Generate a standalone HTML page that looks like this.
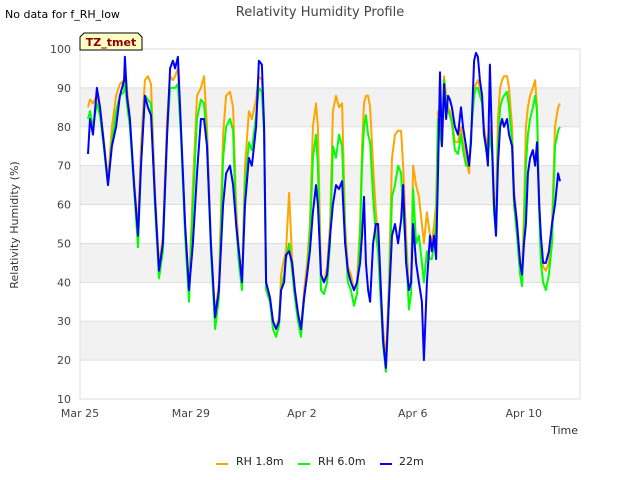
<!DOCTYPE html>
<html><head><meta charset="utf-8"><style>
body{margin:0;background:#fff;}
svg{display:block;font-family:"DejaVu Sans","Liberation Sans",sans-serif;}
</style></head><body>
<svg id="chart" width="640" height="480">
<rect width="640" height="480" fill="#fff"/>
<g id="bands"></g>
<g id="grid"></g>
<rect x="80" y="49" width="500" height="350" fill="none" stroke="#ddd"/>
<g id="yticks"></g>
<g id="xticks"></g>
<g id="series"></g>
<text x="320" y="16" text-anchor="middle" font-size="13" fill="#444">Relativity Humidity Profile</text>
<text x="5" y="18" font-size="11" fill="#000">No data for f_RH_low</text>
<g>
<path d="M80,50 L80,37 L84,33 L138,33 L142,37 L142,50 Z" fill="#ffffc4" stroke="#000" stroke-width="1"/>
<text x="111" y="46" text-anchor="middle" font-size="11" font-weight="bold" fill="#8b0000">TZ_tmet</text>
</g>
<text transform="translate(18,225) rotate(-90)" text-anchor="middle" font-size="11" fill="#333">Relativity Humidity (%)</text>
<text x="578" y="434" text-anchor="end" font-size="11" fill="#333">Time</text>
<g>
<g><line x1="216" y1="464" x2="228" y2="464" stroke="#ffa500" stroke-width="2"/><text x="236" y="465" font-size="11" fill="#222">RH 1.8m</text></g>
<g><line x1="298" y1="464" x2="310" y2="464" stroke="#00ff00" stroke-width="2"/><text x="318" y="465" font-size="11" fill="#222">RH 6.0m</text></g>
<g><line x1="380" y1="464" x2="392" y2="464" stroke="#0000ff" stroke-width="2"/><text x="399" y="465" font-size="11" fill="#222">22m</text></g>
</g>
</svg>
<script>
const timeDays=[0.29,0.36,0.47,0.61,0.72,0.87,1.01,1.15,1.30,1.44,1.59,1.62,1.69,1.80,1.95,2.09,2.20,2.34,2.45,2.56,2.70,2.85,2.99,3.14,3.25,3.35,3.43,3.53,3.64,3.79,3.93,4.07,4.22,4.36,4.47,4.58,4.72,4.87,5.01,5.16,5.27,5.41,5.52,5.63,5.73,5.84,5.95,6.09,6.20,6.35,6.45,6.56,6.64,6.71,6.85,6.96,7.07,7.18,7.25,7.36,7.43,7.54,7.65,7.75,7.86,7.97,8.08,8.19,8.29,8.40,8.51,8.58,8.69,8.80,8.91,9.02,9.12,9.23,9.34,9.45,9.56,9.66,9.77,9.88,9.99,10.10,10.17,10.24,10.31,10.39,10.46,10.57,10.67,10.75,10.82,10.93,11.03,11.14,11.25,11.36,11.47,11.58,11.65,11.76,11.86,11.94,12.01,12.12,12.22,12.33,12.40,12.51,12.62,12.69,12.77,12.84,12.91,12.98,13.05,13.13,13.20,13.27,13.34,13.41,13.52,13.63,13.74,13.81,13.92,14.03,14.10,14.21,14.28,14.35,14.42,14.50,14.57,14.64,14.71,14.78,14.86,14.93,15.00,15.07,15.15,15.22,15.29,15.40,15.47,15.58,15.65,15.76,15.87,15.94,16.01,16.08,16.15,16.23,16.33,16.41,16.48,16.56,16.62,16.70,16.80,16.91,17.02,17.13,17.24,17.31];
const rh22=[73,82,78,90,85,75,65,75,80,88,92,98,88,82,65,52,70,88,85,83,62,43,50,78,95,97,95,98,80,55,38,50,68,82,82,75,50,31,38,60,68,70,65,55,48,40,60,72,70,80,97,96,80,40,36,30,28,30,38,40,47,48,45,38,32,28,36,42,48,58,65,60,42,40,42,52,60,65,64,66,50,43,40,38,40,45,52,62,45,38,35,50,55,55,43,25,18,35,52,55,50,56,65,45,38,40,55,45,40,35,20,40,52,48,52,46,68,94,75,91,82,88,87,85,80,78,85,80,75,70,76,97,99,98,92,88,78,75,70,96,75,60,52,70,80,82,80,82,78,75,62,55,45,42,50,55,68,72,74,70,76,60,52,45,45,48,55,60,68,66];
const rh18=[85,87,86,88,85,76,66,80,88,91,92,95,90,82,66,54,75,92,93,91,64,44,52,82,93,92,93,95,80,54,38,65,88,90,93,80,50,31,40,78,88,89,85,60,48,40,70,84,82,87,93,92,80,40,36,30,28,31,42,46,48,63,46,38,32,28,38,45,55,80,86,80,42,40,44,55,84,88,85,86,55,44,42,38,40,55,75,86,88,88,85,70,58,52,40,28,20,40,72,78,79,79,70,52,38,40,70,65,62,55,50,58,52,50,55,60,84,80,78,93,88,85,84,82,76,76,80,76,72,68,78,90,91,92,90,87,80,77,75,80,75,62,58,82,90,92,93,93,90,80,64,56,45,42,58,80,85,88,90,92,85,62,48,44,43,45,55,80,85,86];
const rh60=[82,84,80,86,83,74,65,76,84,88,89,93,86,80,64,49,70,88,87,86,60,41,48,78,90,90,90,91,78,52,35,60,82,87,86,76,48,28,36,72,80,82,79,55,45,38,65,76,74,83,90,89,78,38,35,28,26,29,38,42,46,50,43,36,30,26,36,42,52,72,78,70,38,37,40,50,75,72,78,75,52,40,38,34,37,52,70,80,83,78,76,62,52,48,38,24,17,35,62,65,70,68,58,48,33,37,64,50,52,45,40,48,46,46,50,55,82,78,75,92,86,84,83,81,74,73,78,74,70,70,78,88,90,90,88,86,78,74,72,78,73,58,52,75,85,87,88,89,85,76,60,52,42,39,52,70,78,82,85,88,84,58,45,40,38,42,50,75,79,80];
const yTicks=[10,20,30,40,50,60,70,80,90,100];
const xTickDays=[0,4,8,12,16];
const xTickLabels=["Mar 25","Mar 29","Apr 2","Apr 6","Apr 10"];
const NS="http://www.w3.org/2000/svg";
const X0=80,X1=580,Y0=399,Y1=49,DMIN=0,DMAX=18.03,VMIN=10,VMAX=100;
function xs(d){return X0+(d-DMIN)/(DMAX-DMIN)*(X1-X0);}
function ys(v){return Y0-(v-VMIN)/(VMAX-VMIN)*(Y0-Y1);}
function mk(tag,attrs,parent){const e=document.createElementNS(NS,tag);for(const k in attrs)e.setAttribute(k,attrs[k]);parent.appendChild(e);return e;}
const bands=document.getElementById('bands'),grid=document.getElementById('grid'),yt=document.getElementById('yticks'),xt=document.getElementById('xticks'),ser=document.getElementById('series');
for(let i=0;i<yTicks.length-1;i++){
  if(i%2===1){const r=mk('rect',{x:X0,y:ys(yTicks[i+1]),width:X1-X0,height:ys(yTicks[i])-ys(yTicks[i+1]),fill:'#f2f2f2'},bands);
  
  }
}
yTicks.forEach(v=>{
  const l=mk('line',{x1:X0,x2:X1,y1:ys(v),y2:ys(v),stroke:'#ddd'},grid);
  
  
  const t=mk('text',{x:71,y:ys(v)+4,'text-anchor':'end','font-size':11,fill:'#444'},yt);
  t.textContent=v;
  
  
});
xTickDays.forEach((d,i)=>{
  const t=mk('text',{x:xs(d),y:417,'text-anchor':'middle','font-size':11,fill:'#444'},xt);
  t.textContent=xTickLabels[i];
  
  
});
function line(vals,color,name){
  const p=timeDays.map((d,i)=>(i?'L':'M')+xs(d).toFixed(1)+','+ys(vals[i]).toFixed(1)).join('');
  const e=mk('path',{d:p,fill:'none',stroke:color,'stroke-width':2,'stroke-linejoin':'round'},ser);
  
  
}
line(rh18,'#ffa500','series-rh-1-8m');
line(rh60,'#00ff00','series-rh-6-0m');
line(rh22,'#0000ff','series-22m');
</script>
</body></html>
